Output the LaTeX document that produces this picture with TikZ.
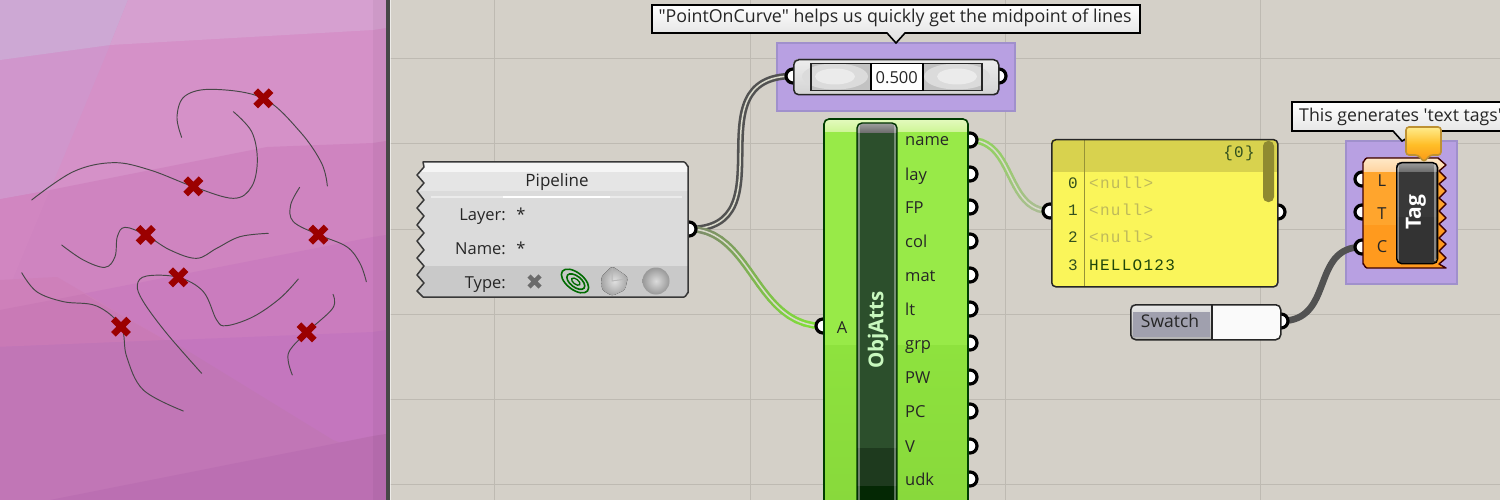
\documentclass[tikz,border=0pt]{standalone}
\usepackage{fontspec}
\newfontfamily\uif{Open Sans}
\newfontfamily\monof[LetterSpace=8]{Liberation Mono}
\usetikzlibrary{backgrounds,calc}
\pgfdeclarelayer{back}\pgfdeclarelayer{wires}
\pgfsetlayers{back,wires,main}
\definecolor{canvas}{RGB}{212,208,200}
\definecolor{gridc}{RGB}{190,186,178}
\definecolor{groupc}{RGB}{184,160,226}
\definecolor{groupe}{RGB}{160,144,204}
\definecolor{xred}{RGB}{155,0,0}
\definecolor{cgreen}{RGB}{152,234,72}
\definecolor{cgreenb}{RGB}{142,226,62}
\definecolor{bargreen}{RGB}{44,79,44}
\definecolor{panely}{RGB}{250,245,90}
\definecolor{panelh}{RGB}{216,210,78}
\definecolor{cor}{RGB}{255,154,30}
\definecolor{wcenter}{RGB}{218,218,204}
\definecolor{wgrey}{RGB}{125,132,110}
\definecolor{wgreen}{RGB}{128,224,56}
\definecolor{wpale}{RGB}{172,188,150}
\definecolor{wname}{RGB}{140,214,84}
\newcommand\fs[1]{\fontsize{#1}{#1}\selectfont}
% gradient wire: from, control, control, to, colour at start, colour at end
\newcommand\gradwire[6]{%
 \foreach \i [evaluate=\i as \t using \i/20] in {0,...,20}
   \path (#1) .. controls (#2) and (#3) .. coordinate[pos=\t] (gw\i) (#4);
 \foreach \i [evaluate=\i as \pc using int(\i*5), remember=\i as \prev (initially 0)] in {1,...,20} {
   \colorlet{wmix}{#6!\pc!#5}
   \draw[draw=wmix,line width=6.6pt,line cap=round] (gw\prev) -- (gw\i);
 }
 \draw[draw=wcenter,line width=1.5pt] (#1) .. controls (#2) and (#3) .. (#4);
}
\tikzset{
 x=1pt,y=-1pt,
 port/.style={circle,draw=black,line width=3.2pt,fill=white,inner sep=0pt,minimum size=14pt},
 lab/.style={inner sep=0pt,font=\uif\fs{16.5},text=black!85,text height=12pt,text depth=0pt},
 wiregrey/.style={draw=black!68,line width=6.6pt},
 wiregreyc/.style={draw=wcenter,line width=1.5pt},
 curve/.style={draw=black!72,line width=0.95pt,line cap=round},
 xmark/.style={draw=xred,line width=6.5pt},
 outline/.style={draw=black!85,line width=1.5pt,rounded corners=4pt,fill=none,inner sep=0pt,anchor=north west},
 tip/.style={draw=black,line width=1.6pt,top color=white,bottom color=black!13},
}
\begin{document}
\begin{tikzpicture}
\useasboundingbox (0,0) rectangle (1500,500);
\begin{pgfonlayer}{back}
% canvas
\fill[canvas] (385,0) rectangle (1500,500);
\foreach \gx in {494,750,1005,1260} \draw[gridc,line width=1pt] (\gx,0) -- (\gx,500);
\foreach \gy in {59,144,229,314,399,484} \draw[gridc,line width=1pt] (388,\gy) -- (1500,\gy);
% left viewport
\fill[fill={rgb,255:red,213;green,145;blue,200}] (0,0) rectangle (386,200);
\fill[fill={rgb,255:red,207;green,132;blue,192}] (0,199) -- (50,190) -- (267,147) -- (373,143) -- (386,141) -- (386,350) -- (0,350) -- cycle;
\fill[fill={rgb,255:red,209;green,134;blue,193}] (0,199) -- (50,190) -- (0,310) -- cycle;
\fill[fill={rgb,255:red,202;green,124;blue,190}] (0,310) -- (373,237) -- (386,235) -- (386,350) -- (0,350) -- cycle;
\fill[fill={rgb,255:red,206;green,128;blue,186}] (0,280) -- (57,277) -- (170,343) -- (0,347) -- cycle;
\fill[fill={rgb,255:red,201;green,122;blue,182}] (0,310) -- (84,294) -- (170,343) -- (0,347) -- cycle;
\fill[fill={rgb,255:red,196;green,118;blue,190}] (0,347) -- (373,332) -- (386,330) -- (386,500) -- (0,500) -- cycle;
\fill[fill={rgb,255:red,193;green,118;blue,182}] (0,347) -- (170,340) -- (333,440) -- (387,460) -- (386,500) -- (0,500) -- cycle;
\fill[fill={rgb,255:red,187;green,111;blue,178}] (50,500) -- (373,436) -- (386,434) -- (386,500) -- cycle;
\fill[fill={rgb,255:red,208;green,150;blue,204}] (0,0) -- (128,0) -- (110,45) -- (50,190) -- (0,199) -- cycle;
\fill[fill={rgb,255:red,205;green,168;blue,212}] (0,0) -- (128,0) -- (110,45) -- (0,60) -- cycle;
\fill[fill={rgb,255:red,214;green,160;blue,208}] (128,0) -- (386,0) -- (386,28) -- (373,30) -- (110,45) -- cycle;
\fill[black,opacity=.04] (373,0) rectangle (386,500);
\fill[black!72] (386,0) rectangle (389.5,500);
\fill[white,opacity=.6] (389.5,0) rectangle (390.5,500);
\begin{scope}[shift={(0,60)},scale=1/3]
\draw[curve] plot[smooth,tension=.6] coordinates {(545,232)(531,170)(555,108)(640,88)(790,115)(900,215)(965,310)(982,378)};
\draw[curve] plot[smooth,tension=.6] coordinates {(700,155)(755,215)(772,300)(755,380)(700,415)(580,380)(450,330)(340,308)(220,335)(95,420)};
\draw[curve] plot[smooth,tension=.6] coordinates {(185,555)(250,600)(315,622)(345,590)(352,530)(375,502)(437,525)(510,570)(590,595)(650,565)(720,530)(805,520)};
\draw[curve] plot[smooth,tension=.6] coordinates {(605,940)(500,820)(430,725)(412,675)(440,648)(535,652)(610,695)(650,780)(680,797)(760,770)(840,715)(895,657)};
\draw[curve] plot[smooth,tension=.6] coordinates {(65,638)(110,695)(190,725)(290,738)(363,800)(380,890)(430,990)(550,1053)};
\draw[curve] plot[smooth,tension=.6] coordinates {(899,382)(872,435)(880,485)(955,524)(1040,560)(1080,610)(1099,665)};
\draw[curve] plot[smooth,tension=.6] coordinates {(999,703)(998,745)(920,817)(870,870)(865,905)(877,945)};
\foreach \mx/\my in {790/115,580/379,437/525,955/524,535/652,363/800,920/817}
  \draw[xmark] (\mx-23,\my-23) -- (\mx+23,\my+23) (\mx-23,\my+23) -- (\mx+23,\my-23);
\end{scope}
% groups
\fill[groupc] (777,43) rectangle (1015,111);
\draw[groupe,line width=1.5pt] (777,43) rectangle (1015,111);
\fill[groupc] (1346,141) rectangle (1457,284);
\draw[groupe,line width=1.5pt] (1346,141) rectangle (1457,284);
\end{pgfonlayer}

% ports
\node[port] (pOut) at (689,229) {};
\node[port] (sIn) at (793,76) {};
\node[port] (sOut) at (999,76) {};
\node[port] (aIn) at (823,326) {};
\foreach \pn/\py in {name/140,lay/174,FP/207,col/241,mat/275,lt/309,grp/343,PW/377,PC/411,V/446,udk/479}
  \node[port] (o\pn) at (970,\py) {};
\node[port] (pnIn) at (1050,211) {};
\node[port] (pnOut) at (1278,212) {};
\node[port] (swOut) at (1281,321) {};
\node[port] (tL) at (1362,179) {};
\node[port] (tT) at (1362,212) {};
\node[port] (tC) at (1362,247) {};

% wires
\begin{pgfonlayer}{wires}
\draw[wiregrey] (pOut.center) .. controls (790,229) and (690,76) .. (sIn.center);
\draw[wiregreyc] (pOut.center) .. controls (790,229) and (690,76) .. (sIn.center);
\gradwire{pOut.center}{752,229}{755,326}{aIn.center}{wgrey}{wgreen}
\gradwire{oname.center}{1015,140}{1005,211}{pnIn.center}{wname}{wpale}
\draw[wiregrey,draw=black!68] (swOut.center) .. controls (1335,321) and (1310,247) .. (tC.center);
\end{pgfonlayer}

% Pipeline
\def\pipepath{(423,162) -- (684,162) to[out=0,in=-90] (688,166) -- (688,293) to[out=90,in=0] (684,297) -- (423,297) -- (417,291) -- (424,283) -- (417,275) -- (424,266) -- (417,258) -- (424,250) -- (417,241) -- (424,233) -- (417,225) -- (424,216) -- (417,208) -- (424,200) -- (417,191) -- (424,183) -- (417,175) -- (424,167) -- cycle}
\fill[black!15] \pipepath;
\begin{scope}
\clip \pipepath;
\fill[white!96!black] (410,160) rectangle (690,172);
\fill[black!10] (410,172) rectangle (690,191);
\fill[black!14] (410,191) rectangle (690,266);
\fill[black!21] (410,266) rectangle (690,300);
\draw[black!8,line width=1pt] (431,197) -- (682,197);
\draw[white,line width=1pt] (503,197) -- (610,197);
\end{scope}
\draw[black!78,line width=1.5pt,line join=round] \pipepath;
\node[lab,font=\uif\fs{17}] (pipeT) at (557,180) {Pipeline};
\node[lab,anchor=east] (l1) at (506,214) {Layer:};
\node[lab,anchor=east] (l2) at (506,248) {Name:};
\node[lab,anchor=east] (l3) at (506,282) {Type:};
\node[lab] (v1) at (521,214) {*};
\node[lab] (v2) at (521,248) {*};
\draw[black!58,line width=4.5pt] (529,276) -- (540,287) (529,287) -- (540,276);
\begin{scope}[shift={(575,281)},rotate=-38]
\draw[green!42!black,line width=1.6pt] (0,0) ellipse (16 and 8.5);
\draw[green!42!black,line width=1.6pt] (1,0) ellipse (10.5 and 5.5);
\draw[green!42!black,line width=1.3pt] (1,0) ellipse (5 and 2.5);
\end{scope}
\fill[inner color=black!12,outer color=black!36,rounded corners=3pt] (612,266) -- (628,277) -- (625,290) -- (612,296) -- (602,290) -- (601,277) -- cycle;
\draw[black!28,line width=1pt] (612,268) -- (612,281) -- (626,279);
\shade[inner color=black!14,outer color=black!40] (656,281) circle (13.5);

% Slider
\fill[top color=black!7,bottom color=black!17] (793,59) [rounded corners=5pt] rectangle (998,94);
\fill[black!24] (810,63) rectangle (981,90);
\foreach \lx in {835,957} {
 \fill[black!14] (\lx,76.5) ellipse (33 and 13);
 \fill[black!8] (\lx,76.5) ellipse (20 and 8);
}
\node[outline,rounded corners=0pt,minimum width=171pt,minimum height=27pt] (slTrack) at (810,63) {};
\node[draw=black,line width=1.5pt,fill=white,minimum width=52pt,minimum height=27pt,inner sep=0pt,anchor=north west,font=\uif\fs{16.5},text=black!85,text height=12pt,text depth=0pt] (slVal) at (870,63) {0.500};
\node[outline,minimum width=205pt,minimum height=35pt,rounded corners=5pt] (slider) at (793,59) {};

% tooltip 1
\path[tip] (652,5) -- (1140,5) -- (1140,33) -- (905,33) -- (896,43) -- (887,33) -- (652,33) -- cycle;
\node[lab,font=\uif\fs{17.8}] (tip1) at (895,17) {"PointOnCurve" helps us quickly get the midpoint of lines};

% ObjAtts
\begin{scope}
\clip[rounded corners=5pt] (824,119) rectangle (968,520);
\fill[cgreen] (824,119) rectangle (968,345);
\fill[top color=cgreenb,bottom color=cgreenb!96!black] (824,345) rectangle (968,500);
\fill[top color={rgb,255:red,228;green,250;blue,190},bottom color={rgb,255:red,205;green,245;blue,150}] (824,119) rectangle (968,132);
\end{scope}
\draw[black!20!green!30!black,line width=1.6pt,rounded corners=5pt] (824,520) -- (824,119) -- (968,119) -- (968,520);
\begin{scope}
\clip[rounded corners=5pt] (857,123) rectangle (897,520);
\fill[bargreen] (857,123) rectangle (897,448);
\fill[fill={rgb,255:red,30;green,58;blue,30}] (857,448) rectangle (897,486);
\fill[fill={rgb,255:red,4;green,40;blue,4}] (857,486) rectangle (897,520);
\fill[top color=black!38,bottom color=black!58] (857,123) rectangle (897,133);
\draw[white,opacity=.35,line width=1.4pt] (859,125) -- (859,500) (895,125) -- (895,500);
\end{scope}
\draw[black!80!green,line width=1.4pt,rounded corners=5pt] (857,520) -- (857,123) -- (897,123) -- (897,520);
\node[rotate=90,inner sep=0pt,font=\uif\bfseries\fs{20.5},text={rgb,255:red,200;green,248;blue,190}] (objT) at (878,330) {ObjAtts};
\node[lab] (aT) at (842,327) {A};
\foreach \pn/\py in {name/140,lay/174,FP/207,col/241,mat/275,lt/309,grp/343,PW/377,PC/411,V/446,udk/479}
  \node[lab,anchor=west] (t\pn) at (905,\py) {\pn};

% Panel
\begin{scope}
\clip[rounded corners=4pt] (1051,139) rectangle (1277,286);
\fill[panely] (1051,139) rectangle (1277,286);
\fill[panelh] (1051,139) rectangle (1277,172);
\draw[black!30!panelh,line width=.8pt] (1084,139) -- (1084,286);
\fill[fill={rgb,255:red,143;green,138;blue,48},rounded corners=5pt] (1263,141) rectangle (1274,202);
\end{scope}
\node[outline,minimum width=226pt,minimum height=147pt] (panel) at (1051,139) {};
\begin{scope}[every node/.style={inner sep=0pt,font=\monof\fs{16},text={rgb,255:red,50;green,80;blue,30}}]
\node (brace) at (1239,153) {\{0\}};
\node[anchor=east] (i0) at (1078,183) {0};
\node[anchor=east] (i1) at (1078,210) {1};
\node[anchor=east] (i2) at (1078,237) {2};
\node[anchor=east] (i3) at (1078,265) {3};
\node[anchor=west,text={rgb,255:red,190;green,185;blue,90}] (r0) at (1089,183) {<null>};
\node[anchor=west,text={rgb,255:red,190;green,185;blue,90}] (r1) at (1089,210) {<null>};
\node[anchor=west,text={rgb,255:red,190;green,185;blue,90}] (r2) at (1089,237) {<null>};
\node[anchor=west,text={rgb,255:red,30;green,70;blue,10}] (r3) at (1089,265) {HELLO123};
\end{scope}

% Swatch
\begin{scope}
\clip[rounded corners=5pt] (1130,304) rectangle (1280,339);
\fill[black!2] (1130,304) rectangle (1280,339);
\fill[top color=black!8,bottom color=black!30] (1130,304) rectangle (1212,339);
\fill[fill={rgb,255:red,160;green,160;blue,174}] (1133,312) rectangle (1210,337);
\end{scope}
\draw[black!85,line width=1.4pt] (1212,304) -- (1212,339);
\node[outline,minimum width=150pt,minimum height=35pt,rounded corners=5pt] (swatch) at (1130,304) {};
\node[lab,font=\uif\fs{17.5}] (swT) at (1170,321) {Swatch};

% Tooltip 2
\path[tip] (1292,102) -- (1510,102) -- (1510,131) -- (1420,131) -- (1402,141) -- (1393,131) -- (1292,131) -- cycle;
\node[lab,anchor=west,font=\uif\fs{17.7}] (tip2) at (1299,116) {This generates 'text tags'};

% Tag
\def\tagpath{(1367,158) -- (1438,158) -- (1446,165) -- (1439,171) -- (1446,178) -- (1439,184) -- (1446,191) -- (1439,198) -- (1446,204) -- (1439,211) -- (1446,218) -- (1439,224) -- (1446,231) -- (1439,238) -- (1446,244) -- (1439,251) -- (1446,258) -- (1439,264) -- (1446,268) -- (1367,268) to[out=180,in=90] (1363,264) -- (1363,162) to[out=-90,in=180] cycle}
\fill[cor] \tagpath;
\begin{scope}
\clip \tagpath;
\fill[fill={rgb,255:red,255;green,165;blue,45}] (1360,172) rectangle (1450,225);
\fill[top color={rgb,255:red,255;green,236;blue,205},bottom color={rgb,255:red,255;green,212;blue,160}] (1360,156) rectangle (1450,172);
\end{scope}
\draw[black!60!red!60!black,line width=1.4pt,line join=round] \tagpath;
\node[lab] (tagL) at (1382,180) {L};
\node[lab] (tagT) at (1382,213) {T};
\node[lab] (tagC) at (1382,246) {C};
\begin{scope}
\clip[rounded corners=5pt] (1396,162) rectangle (1437,263);
\fill[black!78] (1396,162) rectangle (1437,263);
\fill[top color=black!38,bottom color=black!58] (1396,162) rectangle (1437,172);
\fill[black!80] (1396,217) rectangle (1437,263);
\draw[white,opacity=.4,line width=1.3pt] (1398,164) -- (1398,261) (1435,164) -- (1435,261);
\end{scope}
\node[draw=black,line width=1.4pt,rounded corners=5pt,minimum width=41pt,minimum height=101pt,inner sep=0pt,anchor=north west] (tagBar) at (1396,162) {};
\node[rotate=90,inner sep=0pt,font=\uif\bfseries\fs{21},text=white] (tagN) at (1416,212) {Tag};
% balloon
\path[draw={rgb,255:red,190;green,145;blue,50},line width=1.6pt,top color={rgb,255:red,255;green,236;blue,140},bottom color={rgb,255:red,250;green,150;blue,20},middle color={rgb,255:red,255;green,190;blue,40},rounded corners=3pt] (1406,127) -- (1441,127) -- (1441,155) -- (1430,155) -- (1424,162) -- (1418,155) -- (1406,155) -- cycle;
\end{tikzpicture}
\end{document}
